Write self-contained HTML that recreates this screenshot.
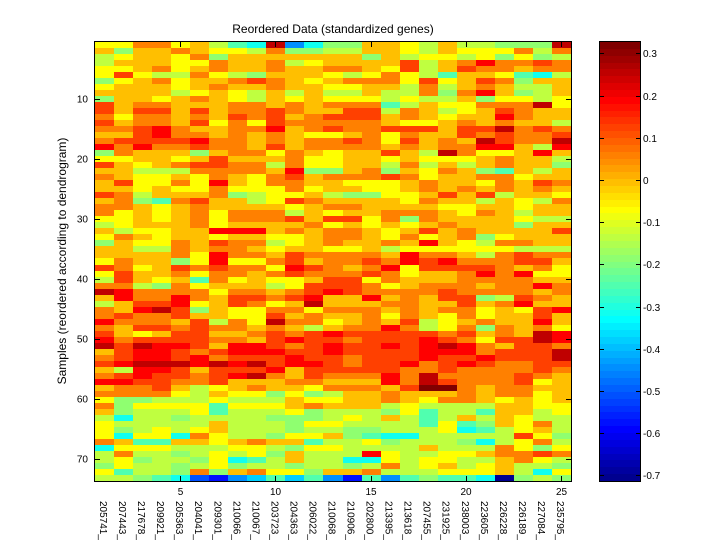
<!DOCTYPE html>
<html><head><meta charset="utf-8"><style>
body{margin:0;background:#fff}
svg{display:block}
text{font-family:"Liberation Sans",Arial,sans-serif;fill:#000}
</style></head><body>
<svg id="s" width="720" height="540" viewBox="0 0 720 540" xmlns="http://www.w3.org/2000/svg">
<rect width="720" height="540" fill="#fff"/>
<g id="hm" shape-rendering="crispEdges"></g>
<g id="cb" shape-rendering="crispEdges"></g>
<g fill="none" stroke="#000" stroke-width="1" shape-rendering="crispEdges">
<rect x="94.5" y="41.5" width="477" height="440"/>
<path d="M180.5 481V476M275.5 481V476M371.5 481V476M466.5 481V476M561.5 481V476M180.5 42V47M275.5 42V47M371.5 42V47M466.5 42V47M561.5 42V47M95 99.5H100M95 159.5H100M95 219.5H100M95 279.5H100M95 339.5H100M95 399.5H100M95 459.5H100M571 99.5H566M571 159.5H566M571 219.5H566M571 279.5H566M571 339.5H566M571 399.5H566M571 459.5H566"/>
<rect x="599.5" y="41.5" width="41" height="440"/>
<path d="M600 53.5H604M600 96.5H604M600 138.5H604M600 180.5H604M600 222.5H604M600 264.5H604M600 307.5H604M600 349.5H604M600 391.5H604M600 433.5H604M600 475.5H604M640 53.5H636M640 96.5H636M640 138.5H636M640 180.5H636M640 222.5H636M640 264.5H636M640 307.5H636M640 349.5H636M640 391.5H636M640 433.5H636M640 475.5H636"/>
</g>
<text x="333" y="33" font-size="12" text-anchor="middle">Reordered Data (standardized genes)</text>
<text transform="translate(66,261) rotate(-90)" font-size="12" text-anchor="middle">Samples (reordered according to dendrogram)</text>
<g font-size="10" text-anchor="end">
<text x="88" y="102.7">10</text>
<text x="88" y="162.7">20</text>
<text x="88" y="222.7">30</text>
<text x="88" y="282.7">40</text>
<text x="88" y="342.7">50</text>
<text x="88" y="402.7">60</text>
<text x="88" y="462.7">70</text>
</g>
<g font-size="10" text-anchor="middle">
<text x="180.5" y="495">5</text>
<text x="275.5" y="495">10</text>
<text x="371" y="495">15</text>
<text x="466" y="495">20</text>
<text x="561.5" y="495">25</text>
</g>
<g font-size="10">
<text x="643" y="57">0.3</text>
<text x="643" y="100">0.2</text>
<text x="643" y="142">0.1</text>
<text x="643" y="184">0</text>
<text x="643" y="226">-0.1</text>
<text x="643" y="268">-0.2</text>
<text x="643" y="311">-0.3</text>
<text x="643" y="353">-0.4</text>
<text x="643" y="395">-0.5</text>
<text x="643" y="437">-0.6</text>
<text x="643" y="479">-0.7</text>
</g>
<g font-size="10">
<text transform="translate(103.5,501) rotate(90)" dy="0.35em">205741_</text>
<text transform="translate(122.6,501) rotate(90)" dy="0.35em">207443_</text>
<text transform="translate(141.6,501) rotate(90)" dy="0.35em">217678_</text>
<text transform="translate(160.6,501) rotate(90)" dy="0.35em">209921_</text>
<text transform="translate(179.7,501) rotate(90)" dy="0.35em">205363_</text>
<text transform="translate(198.7,501) rotate(90)" dy="0.35em">204041_</text>
<text transform="translate(217.8,501) rotate(90)" dy="0.35em">209301_</text>
<text transform="translate(236.8,501) rotate(90)" dy="0.35em">210066_</text>
<text transform="translate(255.8,501) rotate(90)" dy="0.35em">210067_</text>
<text transform="translate(274.9,501) rotate(90)" dy="0.35em">203723_</text>
<text transform="translate(293.9,501) rotate(90)" dy="0.35em">204363_</text>
<text transform="translate(313.0,501) rotate(90)" dy="0.35em">206022_</text>
<text transform="translate(332.0,501) rotate(90)" dy="0.35em">210068_</text>
<text transform="translate(351.0,501) rotate(90)" dy="0.35em">210906_</text>
<text transform="translate(370.1,501) rotate(90)" dy="0.35em">202800_</text>
<text transform="translate(389.1,501) rotate(90)" dy="0.35em">213395_</text>
<text transform="translate(408.2,501) rotate(90)" dy="0.35em">213618_</text>
<text transform="translate(427.2,501) rotate(90)" dy="0.35em">207455_</text>
<text transform="translate(446.2,501) rotate(90)" dy="0.35em">231925_</text>
<text transform="translate(465.3,501) rotate(90)" dy="0.35em">238003_</text>
<text transform="translate(484.3,501) rotate(90)" dy="0.35em">223605_</text>
<text transform="translate(503.4,501) rotate(90)" dy="0.35em">226228_</text>
<text transform="translate(522.4,501) rotate(90)" dy="0.35em">226189_</text>
<text transform="translate(541.4,501) rotate(90)" dy="0.35em">227084_</text>
<text transform="translate(560.5,501) rotate(90)" dy="0.35em">235795_</text>
</g>
</svg>
<script>
(function(){
var D=[
"aaccab976f46"+"88bba9b99888f",
"b8bbcbaa9c88"+"99bba9baaac9c",
"9abbac8bbbbb"+"bb8b9aa9a8a89",
"9bbbaacbbc9a"+"bbbbd9bceccdc",
"aabcabcbbcbb"+"ccbad9bdccbcc",
"ada99ca98bbb"+"a9aca97bba769",
"8abcabbcdcba"+"bcccadabdc8bb",
"abbbabcbbcbb"+"aabb9c9bcb99b",
"bbbb9aba9b9b"+"99b99c8ceb89b",
"8bbabcba9bab"+"aaa9a99b8aa9a",
"dbccbbbccbcb"+"ccc79baacccfa",
"dbddbdbccdcb"+"bdd9cb9abdcbb",
"caccbcbdcdbc"+"dddbcbabbecbb",
"dbccbdacadcc"+"cccbaabcbcbb9",
"ccdecbbccebc"+"dccdddbddfcdc",
"bbdeccbcbcba"+"abcacbbdcdccd",
"cddddeccbcbc"+"cdcadbcbfdccf",
"ececcdccbdbc"+"cccbcbcceeb9e",
"8cbbb8bccacb"+"abbdb9fcaabeb",
"aabbabdbbbca"+"abbabaaabcbb9",
"dbabcddcc9ca"+"abb9c9b9bcbb8",
"bb999ccccbe8"+"8bc8bacb87b9b",
"cbaabacbacdb"+"cccdcabbccabb",
"bdaacaebaccb"+"baaabcbbacbdc",
"bbabaacaaaca"+"bbaabcbcbcbcb",
"dc9bbbc89aab"+"988aabdbd9bba",
"bc87cdbb9adc"+"bbbbacbb9ba9c",
"ccbabcbbbbab"+"ccbbbbaabbabb",
"cababcaccc9b"+"abbcccbacb9bb",
"aababcacccdb"+"ddac8cbbbba99",
"9abbbcabbbbc"+"abababcbbb8bb",
"b9aabbeeebcb"+"ccbabdbcbbbbd",
"acbabbabbaab"+"ccbacabc8abbb",
"8baacbdcc9ab"+"cbbcbeba9ccbb",
"bb99cbccbabb"+"aab9aaaaaa999",
"bbbbcaeccbdc"+"cccbeccb9cdcc",
"acbb8aeaacdb"+"ccdcedecccddb",
"dcabdcdccaed"+"cbceaddddcbca",
"adbbcaccbcdc"+"ccdcabbceceaa",
"9dbab7cabaab"+"ddacbbbccccbb",
"cc98cabbb9ad"+"ddcabcccbccec",
"feccccaccbcd"+"edccccdccccbc",
"beccecbddcde"+"bbebcbdd89dcb",
"9bddeabdcabf"+"bbbccbbdbcebb",
"cbefd8baacca"+"cccbcbccabade",
"cdccdbbaadbc"+"bbcacbacabbdb",
"ecccbd9cafcc"+"abcbd9abcbbeb",
"cbddcdccbcb9"+"bccec9ac8cbca",
"dbabddbbcdcd"+"edddddcdbcbfe",
"ecddddccbded"+"dcdddedcaddfe",
"fdfeedbeedcd"+"eddedefecbddc",
"bdeedcdeeedd"+"eddddeeecdddf",
"cdeedecddded"+"dcdddeddedddf",
"defffefefdee"+"dcddecdedccdd",
"b9eedbdddebd"+"ddddccdccccdc",
"cdeddcdefcbd"+"cccecfccccdcb",
"eeddccdbbbcc"+"bbbecfdcccdab",
"bccdb9abcbba"+"cccbdggcbccbb",
"cccca9baa8a8"+"9bbcbbbcbccab",
"a88999a999ba"+"abbcbaccbabab",
"c8aaaa7aaabc"+"bbb9a9999bbaa",
"b8999a7999a8"+"9998a7997bb9a",
"969989999888"+"9a9b979b9ba99",
"a99999b9998a"+"a99997a78bac9",
"a89a9ab99989"+"988999a679ab9",
"a6aa6ca998aa"+"b876699999da8",
"cb77bbabcbb7"+"99a8999869ac9",
"6aaa999aa98a"+"a9999b999ca8a",
"9c9989a9a8b9"+"99ea99aabccdc",
"9a8998a679b9"+"966a9aa99bca9",
"8a9989a89989"+"989c9ab9ab998",
"a7998c8bcaa8"+"bbc999aaab96a",
"998763245757"+"4274787760898"
];
function jet(i){
  var r,g,b;
  if(i<=24)r=0;else if(i<=40)r=(i-24)/16;else if(i<=55)r=1;else r=(72-i)/16;
  if(i<=8)g=0;else if(i<=24)g=(i-8)/16;else if(i<=39)g=1;else if(i<=55)g=(56-i)/16;else g=0;
  if(i<=8)b=(i+8)/16;else if(i<=23)b=1;else if(i<=39)b=(40-i)/16;else b=0;
  function h(v){v=Math.max(0,Math.min(1,v));return Math.round(v*255);}
  return "rgb("+h(r)+","+h(g)+","+h(b)+")";
}
var NS="http://www.w3.org/2000/svg";
var hm=document.getElementById("hm");
var x0=95,cw=19.04,y0=42,y1=481,nr=73,rh=(y1-y0)/nr;
var frag=document.createDocumentFragment();
for(var r=0;r<nr;r++){
  var s=D[r]||"";
  var ya=Math.round(y0+r*rh),yb=Math.round(y0+(r+1)*rh);
  for(var c=0;c<25;c++){
    var ch=s.charAt(c)||"a";
    var k=parseInt(ch,17);if(isNaN(k))k=10;
    var idx=Math.round(1+k/16*63);
    var xa=Math.round(x0+c*cw),xb=Math.round(x0+(c+1)*cw);
    var e=document.createElementNS(NS,"rect");
    e.setAttribute("x",xa);e.setAttribute("y",ya);
    e.setAttribute("width",xb-xa);e.setAttribute("height",yb-ya);
    e.setAttribute("fill",jet(idx));
    frag.appendChild(e);
  }
}
hm.appendChild(frag);
var cb=document.getElementById("cb");
var cy0=42,cy1=481,bh=(cy1-cy0)/64;
for(var i=1;i<=64;i++){
  var yb2=Math.round(cy1-(i-1)*bh),ya2=Math.round(cy1-i*bh);
  var e2=document.createElementNS(NS,"rect");
  e2.setAttribute("x",600);e2.setAttribute("y",ya2);
  e2.setAttribute("width",40);e2.setAttribute("height",yb2-ya2);
  e2.setAttribute("fill",jet(i));
  cb.appendChild(e2);
}
})();
</script>
</body></html>
